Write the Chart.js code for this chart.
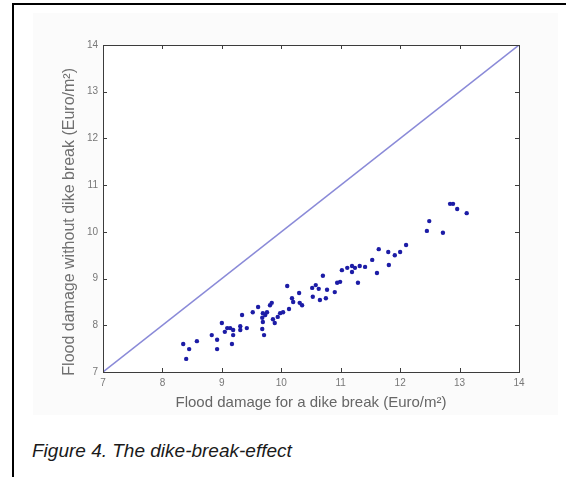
<!DOCTYPE html>
<html>
<head>
<meta charset="utf-8">
<script src="https://cdn.jsdelivr.net/npm/chart.js@4"></script>
<style>
    body { margin: 0; background: #fff; width: 566px; height: 477px; overflow: hidden; position: relative; }
    .frame { position: absolute; left: 12px; top: 3px; width: 600px; height: 520px; border: 2px solid #000; }
    .fig { position: absolute; left: 33px; top: 13px; width: 525px; height: 402px; background: #fbfbfb; }
    .caption { position: absolute; left: 32px; top: 440px; font: italic 19px "Liberation Sans", Arial, sans-serif; color: #1a1a1a; white-space: nowrap; }
</style>
</head>
<body>
<div class="frame"></div>
<div class="fig"><canvas id="dikeChart" width="525" height="402"></canvas></div>
<div class="caption">Figure 4. The dike-break-effect</div>
<script>
// flood damage with a dike break (x) and without (y), Euro/m2
const breakX = [8.35, 8.45, 8.40, 8.58, 8.83, 8.92, 8.92, 9.00, 9.05, 9.09, 9.14, 9.19, 9.19, 9.17, 9.31,
    9.31, 9.34, 9.42, 9.52, 9.61, 9.69, 9.68, 9.69, 9.73, 9.71, 9.68, 9.76, 9.81, 9.84, 9.86, 9.89, 9.94,
    9.98, 10.03, 10.10, 10.13, 10.18, 10.20, 10.30, 10.31, 10.35, 10.52, 10.53, 10.58, 10.63, 10.65,
    10.70, 10.75, 10.77, 10.90, 10.94, 10.99, 11.02, 11.11, 11.19, 11.19, 11.24, 11.29, 11.32, 11.41,
    11.53, 11.61, 11.64, 11.80, 11.81, 11.91, 12.00, 12.10, 12.45, 12.49, 12.72, 12.84, 12.89, 12.96, 13.12];
const noBreakY = [7.60, 7.49, 7.28, 7.66, 7.79, 7.69, 7.49, 8.05, 7.86, 7.94, 7.94, 7.90, 7.79, 7.60, 7.98,
    7.90, 8.22, 7.94, 8.28, 8.39, 8.26, 8.16, 8.07, 8.22, 7.79, 7.92, 8.28, 8.43, 8.48, 8.13, 8.05, 8.18,
    8.26, 8.28, 8.84, 8.35, 8.58, 8.50, 8.69, 8.48, 8.43, 8.80, 8.61, 8.86, 8.78, 8.54,
    9.06, 8.58, 8.76, 8.71, 8.91, 8.93, 9.18, 9.23, 9.27, 9.14, 9.23, 8.91, 9.27, 9.25,
    9.40, 9.12, 9.63, 9.57, 9.29, 9.50, 9.57, 9.72, 10.02, 10.23, 9.98, 10.60, 10.60, 10.49, 10.40];

// y = x reference line
const lineX = [7, 14];
const lineY = [7, 14];
const tickValues = [7, 8, 9, 10, 11, 12, 13, 14];

const tickFont = { family: 'Liberation Sans, Arial, sans-serif', size: 10 };

// matlab style box with inward ticks
const boxTicks = {
    id: 'boxTicks',
    afterDraw(chart) {
        const ctx = chart.ctx;
        const a = chart.chartArea;
        const xs = chart.scales.x, ys = chart.scales.y;
        ctx.save();
        ctx.strokeStyle = '#3c3c3c';
        ctx.lineWidth = 1;
        ctx.strokeRect(a.left + 0.5, a.top + 0.5, a.right - a.left, a.bottom - a.top);
        ctx.beginPath();
        tickValues.forEach((v) => {
            const px = Math.round(xs.getPixelForValue(v)) + 0.5;
            ctx.moveTo(px, a.bottom); ctx.lineTo(px, a.bottom - 4);
            ctx.moveTo(px, a.top); ctx.lineTo(px, a.top + 4);
            const py = Math.round(ys.getPixelForValue(v)) + 0.5;
            ctx.moveTo(a.left, py); ctx.lineTo(a.left + 4, py);
            ctx.moveTo(a.right, py); ctx.lineTo(a.right - 4, py);
        });
        ctx.stroke();
        ctx.restore();
    }
};

const ctx = document.getElementById('dikeChart').getContext('2d');
new Chart(ctx, {
    type: 'scatter',
    data: {
        datasets: [
            {
                label: 'y = x',
                type: 'line',
                data: lineX.map((x, i) => ({ x: x, y: lineY[i] })),
                borderColor: '#8a8ad8',
                borderWidth: 1.5,
                pointRadius: 0,
                fill: false
            },
            {
                label: 'Flood damage',
                data: breakX.map((x, i) => ({ x: x, y: noBreakY[i] })),
                backgroundColor: '#1c1ca6',
                borderWidth: 0,
                pointRadius: 2.2
            }
        ]
    },
    options: {
        responsive: false,
        animation: false,
        layout: { padding: { left: 20, top: 32, right: 39, bottom: 0 } },
        plugins: {
            legend: { display: false },
            tooltip: { enabled: false }
        },
        scales: {
            x: {
                type: 'linear',
                min: 7, max: 14,
                afterFit: (s) => { s.height = 43; },
                afterBuildTicks: (s) => { s.ticks = tickValues.map((v) => ({ value: v })); },
                grid: { display: false, drawTicks: false },
                border: { display: false },
                ticks: { font: tickFont, color: '#777', padding: 5 },
                title: {
                    display: true,
                    text: 'Flood damage for a dike break (Euro/m²)',
                    font: { family: 'Liberation Sans, Arial, sans-serif', size: 15 },
                    color: '#666',
                    padding: { top: 2, bottom: 3 }
                }
            },
            y: {
                type: 'linear',
                min: 7, max: 14,
                afterFit: (s) => { s.width = 50; },
                afterBuildTicks: (s) => { s.ticks = tickValues.map((v) => ({ value: v })); },
                grid: { display: false, drawTicks: false },
                border: { display: false },
                ticks: { font: tickFont, color: '#777', padding: 5 },
                title: {
                    display: true,
                    // trailing spaces push the label a little below the axis centre, as in the original
                    text: 'Flood damage without dike break (Euro/m²)\u00a0\u00a0\u00a0\u00a0\u00a0\u00a0',
                    font: { family: 'Liberation Sans, Arial, sans-serif', size: 16 },
                    color: '#707070',
                    padding: { top: 7, bottom: 0 }
                }
            }
        }
    },
    plugins: [
        {
            id: 'plotBg',
            beforeDraw(chart) {
                const a = chart.chartArea;
                chart.ctx.save();
                chart.ctx.fillStyle = '#fff';
                chart.ctx.fillRect(a.left, a.top, a.right - a.left, a.bottom - a.top);
                chart.ctx.restore();
            }
        },
        boxTicks
    ]
});
</script>
</body>
</html>
